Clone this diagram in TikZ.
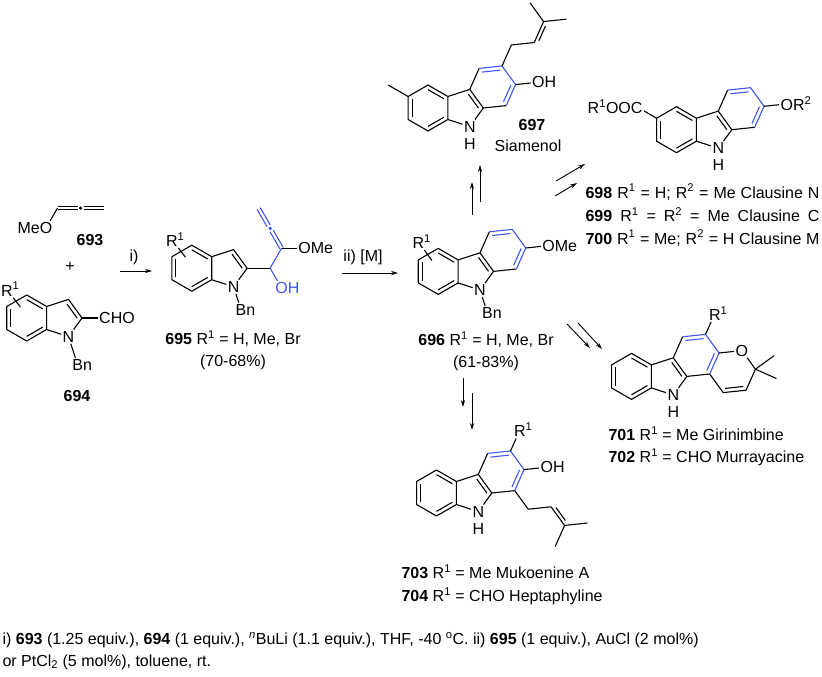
\documentclass[tikz,border=0pt]{standalone}
\usepackage{fontspec}
\setmainfont{Liberation Sans}
\usetikzlibrary{calc,arrows.meta}

\definecolor{chemblue}{RGB}{62,86,235}

% ring double bond: inner line pulled towards the ring centre
\newcommand{\ringdb}[4][]{\draw[#1] ($(#2)!.2!(#4)$) -- ($(#3)!.2!(#4)$);}
% centred double bond (allene)
\newcommand{\cdb}[3][]{%
  \draw[#1] ($(#2)!1.8pt!90:(#3)$) -- ($(#3)!1.8pt!-90:(#2)$);
  \draw[#1] ($(#2)!1.8pt!-90:(#3)$) -- ($(#3)!1.8pt!90:(#2)$);}
% chain double bond, second line on side #4
\newcommand{\sdb}[4][]{%
  \draw[#1] (#2) -- (#3);
  \draw[#1] ($(#2)!.15!(#3)!3.5pt!#4:(#3)$) -- ($(#2)!.85!(#3)!3.5pt!#4:(#3)$);}

% indole core, left ring centre at scope origin
\newcommand{\indole}[1]{%
  \coordinate (#1-c) at (0,0);
  \foreach \ang/\lab in {30/4a,90/5,150/6,210/7,270/8,330/9a}
    \coordinate (#1-\lab) at (\ang:1);
  \coordinate (#1-p) at (1.5542,0);
  \coordinate (#1-4b) at (1.8171,0.8090);
  \coordinate (#1-8a) at (2.4049,0);
  \node[atom] (#1-n) at (1.8171,-0.8090) {N};
  \draw (#1-4a) -- (#1-5) -- (#1-6) -- (#1-7) -- (#1-8) -- (#1-9a) -- cycle;
  \draw (#1-4a) -- (#1-4b) -- (#1-8a) -- (#1-n) -- (#1-9a);
  \ringdb{#1-4a}{#1-5}{#1-c}
  \ringdb{#1-6}{#1-7}{#1-c}
  \ringdb{#1-8}{#1-9a}{#1-c}
  \draw ($(#1-4b)!.25!(#1-p)$) -- ($(#1-8a)!.25!(#1-p)$);}

% carbazole = indole + third ring
\newcommand{\carbazole}[1]{%
  \indole{#1}
  \coordinate (#1-r) at (2.8116,0.9135);
  \foreach \ang/\lab in {126/4,66/3,6/2,-54/1}
    \coordinate (#1-\lab) at ($(#1-r)+(\ang:1)$);
  \draw (#1-4b) -- (#1-4);
  \draw (#1-1) -- (#1-8a);
  \draw[chemblue] (#1-4) -- (#1-3) -- (#1-2) -- (#1-1);
  \ringdb[chemblue]{#1-4}{#1-3}{#1-r}
  \ringdb[chemblue]{#1-2}{#1-1}{#1-r}}

\tikzset{
  mol/.style 2 args={shift={(#1,#2)},x=23pt,y=23pt},
  atom/.style={inner sep=1pt},
  lbl/.style={inner sep=0pt},
  arr/.style={-{Stealth[length=7pt,width=4.2pt]},line width=0.9pt},
}

\begin{document}
\begin{tikzpicture}[x=1pt,y=-1pt,line width=1.1pt,line join=round,
  font=\fontsize{16}{19}\selectfont]
\useasboundingbox (0,0) rectangle (822,677);

% 693
\begin{scope}[mol={46}{228}]
  \node[atom] (o693) at (0,0) {\llap{Me}O};
  \coordinate (a693-1) at (60:1);
  \coordinate (a693-2) at ($(a693-1)+(1,0)$);
  \coordinate (a693-3) at ($(a693-2)+(1,0)$);
  \draw (o693) -- (a693-1);
  \cdb[shorten >=3pt]{a693-1}{a693-2}
  \cdb[shorten <=3pt]{a693-2}{a693-3}
  \fill (a693-2) circle (1.8pt);
\end{scope}

% 694
\begin{scope}[mol={26.7}{318}]
  \indole{i694}
  \node[atom] (cho694) at ($(i694-8a)+(0:1)$) {C\rlap{HO}};
  \draw (i694-8a) -- (cho694);
  \node[atom] (bn694) at ($(i694-n)+(288:1.3)$) {B\rlap{n}};
  \draw (i694-n) -- (bn694);
  \node[atom] (r694) at ($(i694-6)+(90:0.75)$) {R\rlap{\textsuperscript{1}}};
  \draw (r694) -- (120:0.55);
\end{scope}

% 695
\begin{scope}[mol={191.8}{268.2}]
  \indole{i695}
  \coordinate (ch695) at ($(i695-8a)+(0:1)$);
  \coordinate (ca695) at ($(ch695)+(60:1)$);
  \coordinate (cb695) at ($(ca695)+(120:1)$);
  \coordinate (cc695) at ($(cb695)+(120:1)$);
  \node[atom] (ome695) at ($(ca695)+(0:1)$) {O\rlap{Me}};
  \node[atom,text=chemblue] (oh695) at ($(ch695)+(-60:1)$) {O\rlap{H}};
  \draw (i695-8a) -- (ch695);
  \draw (ca695) -- (ome695);
  \draw[chemblue] (oh695) -- (ch695) -- (ca695);
  \cdb[chemblue,shorten >=3pt]{ca695}{cb695}
  \cdb[chemblue,shorten <=3pt]{cb695}{cc695}
  \fill[chemblue] (cb695) circle (1.8pt);
  \node[atom] (bn695) at ($(i695-n)+(288:1.05)$) {B\rlap{n}};
  \draw (i695-n) -- (bn695);
  \node[atom] (r695) at ($(i695-6)+(90:0.75)$) {R\rlap{\textsuperscript{1}}};
  \draw (r695) -- (120:0.55);
\end{scope}

% 696
\begin{scope}[mol={438.2}{271.4}]
  \carbazole{k696}
  \node[atom] (ome696) at ($(k696-2)+(6:1)$) {O\rlap{Me}};
  \draw (k696-2) -- (ome696);
  \node[atom] (bn696) at ($(k696-n)+(288:1.05)$) {B\rlap{n}};
  \draw (k696-n) -- (bn696);
  \node[atom] (r696) at ($(k696-6)+(90:0.8)$) {R\rlap{\textsuperscript{1}}};
  \draw (r696) -- (120:0.55);
\end{scope}

% 697
\begin{scope}[mol={428}{108}]
  \carbazole{k697}
  \node[atom] (h697) at ($(k697-n)+(0,-0.74)$) {H};
  \coordinate (me697) at ($(k697-6)+(150:1)$);
  \draw (k697-6) -- (me697);
  \node[atom] (oh697) at ($(k697-2)+(6:1)$) {O\rlap{H}};
  \draw (k697-2) -- (oh697);
  \coordinate (p697-1) at ($(k697-3)+(66:1)$);
  \coordinate (p697-2) at ($(p697-1)+(6:1)$);
  \coordinate (p697-3) at ($(p697-2)+(66:1)$);
  \coordinate (p697-4) at ($(p697-3)+(6:1)$);
  \coordinate (p697-5) at ($(p697-3)+(126:1)$);
  \draw (k697-3) -- (p697-1) -- (p697-2);
  \sdb{p697-2}{p697-3}{-90}
  \draw (p697-4) -- (p697-3) -- (p697-5);
\end{scope}

% 698-700
\begin{scope}[mol={676.5}{129.7}]
  \carbazole{k698}
  \node[atom] (h698) at ($(k698-n)+(0,-0.74)$) {H};
  \node[atom] (est698) at ($(k698-6)+(150:1)$) {\llap{R\textsuperscript{1}OO}C};
  \draw (k698-6) -- (est698);
  \node[atom] (or698) at ($(k698-2)+(6:1)$) {O\rlap{R\textsuperscript{2}}};
  \draw (k698-2) -- (or698);
\end{scope}

% 701-702
\begin{scope}[mol={631.5}{376.4}]
  \carbazole{k701}
  \node[atom] (h701) at ($(k701-n)+(0,-0.74)$) {H};
  \node[atom] (r701) at ($(k701-3)+(66:1)$) {R\rlap{\textsuperscript{1}}};
  \draw (k701-3) -- (r701);
  \coordinate (q701) at ($(k701-r)+(-24:1.732)$);
  \node[atom] (o701) at ($(q701)+(66:1)$) {O};
  \coordinate (y701-1) at ($(q701)+(6:1)$);
  \coordinate (y701-2) at ($(q701)+(-54:1)$);
  \coordinate (y701-3) at ($(q701)+(-114:1)$);
  \draw (k701-2) -- (o701) -- (y701-1) -- (y701-2) -- (y701-3) -- (k701-1);
  \ringdb{y701-2}{y701-3}{q701}
  \draw (y701-1) -- +(36:1);
  \draw (y701-1) -- +(-24:1);
\end{scope}

% 703-704
\begin{scope}[mol={436.5}{493}]
  \carbazole{k703}
  \node[atom] (h703) at ($(k703-n)+(0,-0.74)$) {H};
  \node[atom] (r703) at ($(k703-3)+(66:1)$) {R\rlap{\textsuperscript{1}}};
  \draw (k703-3) -- (r703);
  \node[atom] (oh703) at ($(k703-2)+(6:1)$) {O\rlap{H}};
  \draw (k703-2) -- (oh703);
  \coordinate (p703-1) at ($(k703-1)+(-54:1)$);
  \coordinate (p703-2) at ($(p703-1)+(6:1)$);
  \coordinate (p703-3) at ($(p703-2)+(-54:1)$);
  \coordinate (p703-4) at ($(p703-3)+(6:1)$);
  \coordinate (p703-5) at ($(p703-3)+(-114:1)$);
  \draw (k703-1) -- (p703-1) -- (p703-2);
  \sdb{p703-2}{p703-3}{90}
  \draw (p703-4) -- (p703-3) -- (p703-5);
\end{scope}

% arrows
\foreach \sx/\sy/\ex/\ey [count=\i] in {120/271/152/271, 342/273/398/273,
    472/215/472/182, 480/202/480/165, 556/181/585/164, 555/196/577/183,
    567/324/590/348, 578/323/602/349, 463/378/463/407, 472/393/472/430}{
  \coordinate (s\i) at (\sx,\sy);
  \coordinate (e\i) at (\ex,\ey);
  \draw[arr] (s\i) -- (e\i);
}
\node[lbl] (cond1) at (134,257) {i)};
\node[lbl] (cond2) at (363,257) {ii) [M]};

% labels
\node[lbl] (l693) at (90,240) {\textbf{693}};
\node[lbl] (plus) at (70,267) {+};
\node[lbl] (l694) at (77,396) {\textbf{694}};
\node[lbl] (l695) at (233,339) {\textbf{695} R\textsuperscript{1} = H, Me, Br};
\node[lbl] (y695) at (233,362) {(70-68\%)};
\node[lbl] (l696) at (486,340) {\textbf{696} R\textsuperscript{1} = H, Me, Br};
\node[lbl] (y696) at (486,363) {(61-83\%)};
\node[lbl] (l697) at (532,125) {\textbf{697}};
\node[lbl] (n697) at (528,146) {Siamenol};
\node[lbl,anchor=west] (l698) at (585,192) {\makebox[234pt][s]{\textbf{698} R\textsuperscript{1} = H; R\textsuperscript{2} = Me Clausine N}};
\node[lbl,anchor=west] (l699) at (585,215) {\makebox[234pt][s]{\textbf{699} R\textsuperscript{1} = R\textsuperscript{2} = Me Clausine C}};
\node[lbl,anchor=west] (l700) at (585,238) {\makebox[234pt][s]{\textbf{700} R\textsuperscript{1} = Me; R\textsuperscript{2} = H Clausine M}};
\node[lbl,anchor=west] (l701) at (608,434) {\textbf{701} R\textsuperscript{1} = Me Girinimbine};
\node[lbl,anchor=west] (l702) at (608,457) {\textbf{702} R\textsuperscript{1} = CHO Murrayacine};
\node[lbl,anchor=west] (l703) at (401,572) {\textbf{703} R\textsuperscript{1} = Me Mukoenine A};
\node[lbl,anchor=west] (l704) at (401,596) {\textbf{704} R\textsuperscript{1} = CHO Heptaphyline};

% conditions
\node[lbl,anchor=west] (note1) at (2,640) {i) \textbf{693} (1.25 equiv.), \textbf{694} (1 equiv.), \textsuperscript{\textit{n}}BuLi (1.1 equiv.), THF, -40 \textsuperscript{o}C. ii) \textbf{695} (1 equiv.), AuCl (2 mol\%)};
\node[lbl,anchor=west] (note2) at (2,662) {or PtCl\textsubscript{2} (5 mol\%), toluene, rt.};

\end{tikzpicture}
\end{document}
